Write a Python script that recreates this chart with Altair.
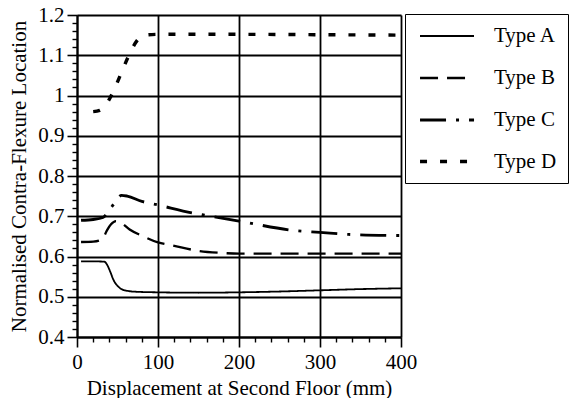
import altair as alt
import pandas as pd

# ---- data ----
series_names = ["Type A", "Type B", "Type C", "Type D"]

a_x = [5, 20, 34, 37, 41, 45, 51, 57, 64, 72, 100, 150, 200, 250, 300, 350, 400]
a_y = [0.588, 0.588, 0.587, 0.58, 0.5625, 0.542, 0.525, 0.517, 0.514, 0.5125,
       0.511, 0.510, 0.511, 0.513, 0.516, 0.519, 0.521]

b_x = [5, 20, 28, 32, 37, 42, 48, 55, 65, 82, 100, 117, 150, 177, 200, 300, 400]
b_y = [0.636, 0.637, 0.64, 0.645, 0.665, 0.68, 0.688, 0.683, 0.667, 0.65,
       0.635, 0.628, 0.614, 0.609, 0.607, 0.607, 0.607]

c_x = [5, 20, 32, 40, 47, 55, 62, 80, 100, 143, 160, 200, 271, 300, 335, 400]
c_y = [0.69, 0.692, 0.697, 0.715, 0.735, 0.752, 0.75, 0.737, 0.728, 0.708,
       0.702, 0.688, 0.664, 0.66, 0.655, 0.652]

d_x = [20, 28, 83, 100, 200, 300, 400]
d_y = [0.96, 0.963, 1.15, 1.152, 1.152, 1.151, 1.15]

x_major_ticks = [0, 100, 200, 300, 400]
y_major_ticks = [0.4, 0.5, 0.6, 0.7, 0.8, 0.9, 1.0, 1.1, 1.2]
x_minor_ticks = [20, 40, 60, 80, 120, 140, 160, 180, 220, 240, 260, 280,
                 320, 340, 360, 380]
y_minor_ticks = [0.42, 0.44, 0.46, 0.48, 0.52, 0.54, 0.56, 0.58, 0.62, 0.64,
                 0.66, 0.68, 0.72, 0.74, 0.76, 0.78, 0.82, 0.84, 0.86, 0.88,
                 0.92, 0.94, 0.96, 0.98, 1.02, 1.04, 1.06, 1.08, 1.12, 1.14,
                 1.16, 1.18]

dash_patterns = [[1, 0], [18, 9], [26, 10, 3, 10], [7, 13]]
line_widths = [1.8, 3.4, 2.4, 2.6]

rows = []
for name, xs, ys in zip(series_names, [a_x, b_x, c_x, d_x], [a_y, b_y, c_y, d_y]):
    for xv, yv in zip(xs, ys):
        rows.append({"disp": xv, "loc": yv, "series": name})
df = pd.DataFrame(rows)

FONT = "Liberation Serif, Times New Roman, serif"
FS = 21

x_scale = alt.Scale(domain=[0, 400], nice=False)
y_scale = alt.Scale(domain=[0.4, 1.2], nice=False, zero=False)

legend_props = dict(
    title=None, orient="none", legendX=328, legendY=-1,
    strokeColor="black", fillColor="white", padding=11.5,
    symbolType="M-0.83,0H5.17", symbolSize=324, symbolStrokeColor="black",
    symbolFillColor="transparent",
    labelFont=FONT, labelFontSize=FS, labelColor="black", labelOffset=55.5,
    labelExpr="datum.label + '\u00a0\u00a0\u00a0\u00a0\u00a0'",
    rowPadding=20,
)

lines = alt.Chart(df).mark_line(interpolate="monotone", color="black").encode(
    x=alt.X("disp:Q", scale=x_scale, axis=alt.Axis(
        orient="bottom", values=x_major_ticks,
        title="Displacement at Second Floor (mm)",
        grid=True, gridColor="black", gridWidth=1.8, gridOpacity=1,
        domainColor="black", domainWidth=2,
        tickColor="black", tickSize=10, tickWidth=1.6,
        labelFont=FONT, labelFontSize=FS, labelColor="black", labelPadding=4,
        labelFlush=False,
        titleFont=FONT, titleFontSize=FS, titleFontWeight="normal",
        titleColor="black", titlePadding=5)),
    y=alt.Y("loc:Q", scale=y_scale, axis=alt.Axis(
        orient="left", values=y_major_ticks, format=".1~f",
        title="Normalised Contra-Flexure Location",
        grid=True, gridColor="black", gridWidth=1.8, gridOpacity=1,
        domainColor="black", domainWidth=2,
        tickColor="black", tickSize=10, tickWidth=1.6,
        labelFont=FONT, labelFontSize=FS, labelColor="black", labelPadding=3,
        labelFlush=False,
        titleFont=FONT, titleFontSize=FS, titleFontWeight="normal",
        titleColor="black", titlePadding=8)),
    strokeDash=alt.StrokeDash("series:N", scale=alt.Scale(domain=series_names, range=dash_patterns),
                              legend=alt.Legend(**legend_props)),
    strokeWidth=alt.StrokeWidth("series:N", scale=alt.Scale(domain=series_names, range=line_widths),
                                legend=alt.Legend(**legend_props)),
    detail="series:N",
)

minor = alt.Chart(df).mark_point(opacity=0).encode(
    x=alt.X("disp:Q", scale=x_scale, axis=alt.Axis(
        orient="bottom", values=x_minor_ticks, labels=False, grid=False,
        domain=False, tickSize=5, tickWidth=1.4, tickColor="black", title=None)),
    y=alt.Y("loc:Q", scale=y_scale, axis=alt.Axis(
        orient="left", values=y_minor_ticks, labels=False, grid=False,
        domain=False, tickSize=5, tickWidth=1.4, tickColor="black", title=None)),
)

chart = alt.layer(minor, lines).resolve_axis(
    x="independent", y="independent"
).properties(
    width=324, height=322,
    padding={"left": 77, "top": 15, "right": 175, "bottom": 61},
    autosize=alt.AutoSizeParams(type="none"),
    background="white",
).configure_view(stroke=None).configure_legend(strokeWidth=2).configure(font=FONT)

chart.save("out.html", embed_options={"renderer": "svg", "actions": False})
